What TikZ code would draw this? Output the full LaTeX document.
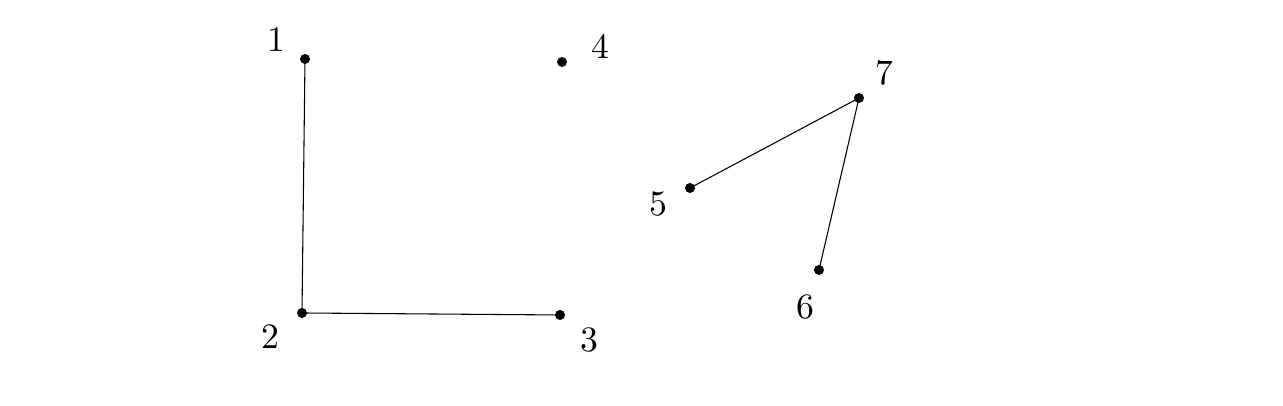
\documentclass[tikz,border=0pt]{standalone}
\begin{document}
\begin{tikzpicture}[x=0.28pt,y=-0.28pt,
  pt/.style={circle,fill=black,inner sep=0pt,minimum size=2.8pt},
  lbl/.style={inner sep=0pt,font=\normalsize},
  edge/.style={line width=0.3pt}]
\useasboundingbox (0,0) rectangle (1283,406);
\node[pt] (p1) at (305,59) {};
\node[pt] (p2) at (302,313) {};
\node[pt] (p3) at (560,315) {};
\node[pt] (p4) at (562,62) {};
\node[pt] (p5) at (690,188) {};
\node[pt] (p6) at (819,270) {};
\node[pt] (p7) at (859,98) {};
\node[lbl] (l1) at (276,40) {1};
\node[lbl] (l2) at (270,337) {2};
\node[lbl] (l3) at (589,340) {3};
\node[lbl] (l4) at (600,46) {4};
\node[lbl] (l5) at (658,204) {5};
\node[lbl] (l6) at (805,307) {6};
\node[lbl] (l7) at (884,73) {7};
\draw[edge] (p1.center) -- (p2.center) -- (p3.center);
\draw[edge] (p5.center) -- (p7.center) -- (p6.center);
\end{tikzpicture}
\end{document}
